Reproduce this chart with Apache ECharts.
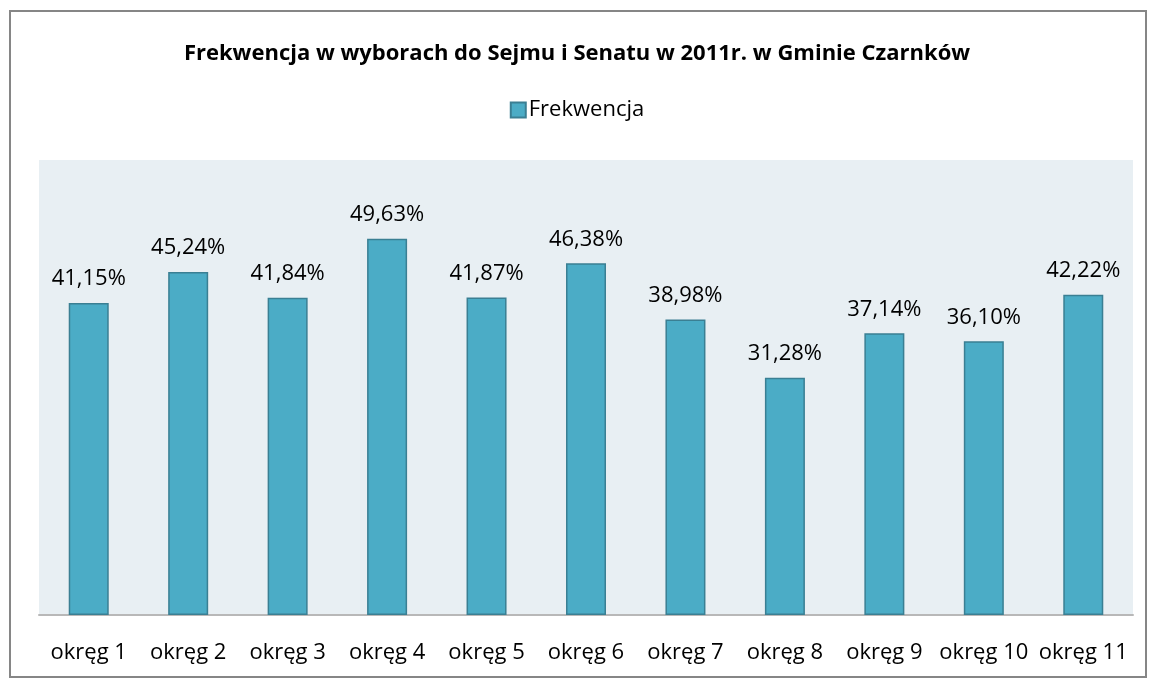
<!DOCTYPE html>
<html>
<head>
<meta charset="utf-8">
<script src="https://cdn.jsdelivr.net/npm/echarts@6/dist/echarts.min.js"></script>
<style>
  html, body { margin: 0; padding: 0; background: #fff; }
  #chart { width: 1154px; height: 685px; }
</style>
</head>
<body>
<div id="chart"></div>
<script>
// dane z wykresu
const okregi = ['okręg 1', 'okręg 2', 'okręg 3', 'okręg 4', 'okręg 5', 'okręg 6',
  'okręg 7', 'okręg 8', 'okręg 9', 'okręg 10', 'okręg 11'];
const frekwencja = [41.15, 45.24, 41.84, 49.63, 41.87, 46.38, 38.98, 31.28, 37.14, 36.10, 42.22];

const font = '"Open Sans", "Noto Sans", sans-serif';
const chart = echarts.init(document.getElementById('chart'));

chart.setOption({
  animation: false,
  title: {
    text: 'Frekwencja w wyborach do Sejmu i Senatu w 2011r. w Gminie Czarnków',
    left: 'center',
    top: 38,
    textStyle: { fontFamily: font, fontSize: 22, fontWeight: 'bold', color: '#000' }
  },
  legend: {
    top: 94,
    left: 'center',
    itemWidth: 15,
    itemHeight: 15,
    itemGap: 4,
    icon: 'rect',
    textStyle: { fontFamily: font, fontSize: 22, color: '#000', padding: [0, 0, 0, -2] },
    data: ['Frekwencja']
  },
  graphic: [{
    type: 'rect',
    shape: { x: 10, y: 11, width: 1136, height: 666 },
    style: { fill: 'none', stroke: '#868686', lineWidth: 2 },
    silent: true
  }],
  grid: {
    left: 39, right: 21, top: 160, bottom: 70,
    show: true,
    backgroundColor: '#e8eff3',
    borderWidth: 0
  },
  xAxis: {
    type: 'category',
    data: okregi,
    axisTick: { show: false },
    axisLine: { lineStyle: { color: '#b8b8b8', width: 2 } },
    axisLabel: { fontFamily: font, fontSize: 22, color: '#000', margin: 27, interval: 0 }
  },
  yAxis: {
    type: 'value',
    min: 0,
    max: 60,
    show: false
  },
  series: [{
    name: 'Frekwencja',
    type: 'bar',
    data: frekwencja,
    barWidth: 40,
    itemStyle: { color: '#4bacc6', borderColor: '#3a7f93', borderWidth: 1.5 },
    label: {
      show: true,
      position: 'top',
      distance: 13,
      fontFamily: font,
      fontSize: 22,
      color: '#000',
      formatter: p => p.value.toFixed(2).replace('.', ',') + '%'
    }
  }]
});
</script>
</body>
</html>
